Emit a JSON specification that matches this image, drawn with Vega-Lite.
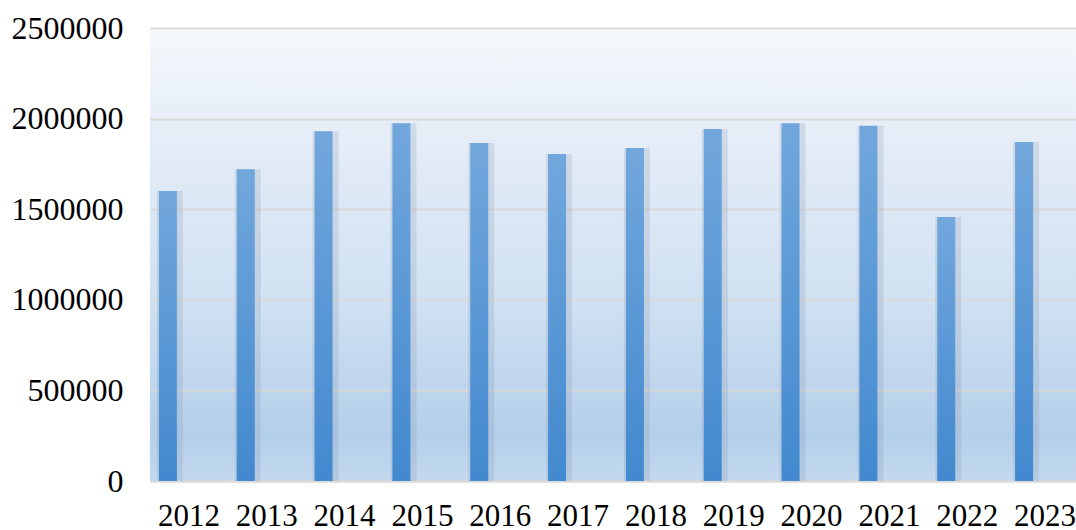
{
  "$schema": "https://vega.github.io/schema/vega-lite/v6.json",
  "autosize": "none",
  "padding": {"left": 150, "top": 28, "right": 0, "bottom": 49},
  "width": 926,
  "height": 453,
  "background": "white",
  "config": {
    "view": {
      "stroke": null,
      "fill": {
        "gradient": "linear", "x1": 0, "y1": 0, "x2": 0, "y2": 1,
        "stops": [
          {"offset": 0, "color": "#f6f9fc"},
          {"offset": 0.2, "color": "#e7eef8"},
          {"offset": 0.6, "color": "#d0e1f2"},
          {"offset": 0.9, "color": "#b4cfea"},
          {"offset": 1, "color": "#c3d9ef"}
        ]
      }
    },
    "font": "Liberation Serif"
  },
  "data": {
    "values": [
      {"year": "2012", "value": 1600000},
      {"year": "2013", "value": 1720000},
      {"year": "2014", "value": 1930000},
      {"year": "2015", "value": 1975000},
      {"year": "2016", "value": 1865000},
      {"year": "2017", "value": 1805000},
      {"year": "2018", "value": 1838000},
      {"year": "2019", "value": 1942000},
      {"year": "2020", "value": 1975000},
      {"year": "2021", "value": 1960000},
      {"year": "2022", "value": 1457000},
      {"year": "2023", "value": 1871000}
    ]
  },
  "encoding": {
    "x": {
      "field": "year",
      "type": "ordinal",
      "scale": {"paddingInner": 0, "paddingOuter": 0, "range": [0, 934]},
      "axis": {
        "title": null,
        "labelAngle": 0,
        "labelFont": "Liberation Serif",
        "labelFontSize": 31,
        "labelColor": "black",
        "labelPadding": 20,
        "ticks": false,
        "domainColor": "#d9d9d9",
        "domainWidth": 2
      }
    },
    "y": {
      "field": "value",
      "type": "quantitative",
      "scale": {"domain": [0, 2500000]},
      "axis": {
        "title": null,
        "values": [0, 500000, 1000000, 1500000, 2000000, 2500000],
        "format": "d",
        "labelFont": "Liberation Serif",
        "labelFontSize": 32,
        "labelColor": "black",
        "labelPadding": 27,
        "ticks": false,
        "domain": false,
        "gridColor": "#d9d9d9",
        "gridWidth": 2
      }
    }
  },
  "layer": [
    {
      "mark": {
        "type": "bar",
        "width": 26,
        "xOffset": -19,
        "color": "#7f8ea3",
        "opacity": 0.2
      }
    },
    {
      "mark": {
        "type": "bar",
        "width": 18,
        "xOffset": -21,
        "color": {
          "gradient": "linear", "x1": 0, "y1": 0, "x2": 0, "y2": 1,
          "stops": [
            {"offset": 0, "color": "#72a7dc"},
            {"offset": 1, "color": "#4289cf"}
          ]
        }
      }
    }
  ]
}
